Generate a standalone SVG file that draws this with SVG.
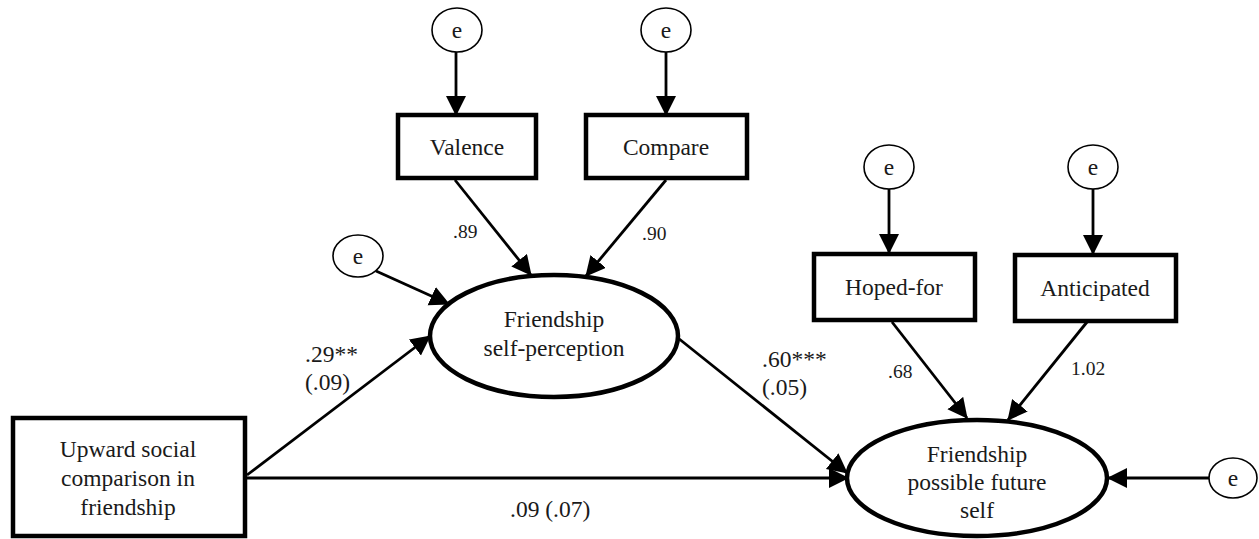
<svg xmlns="http://www.w3.org/2000/svg" width="1259" height="539" viewBox="0 0 1259 539" font-family="'Liberation Serif', 'DejaVu Serif', serif">
<defs>
<marker id="ah" markerUnits="userSpaceOnUse" markerWidth="22" markerHeight="22" refX="19" refY="10" orient="auto">
<path d="M0,0 L20,10 L0,20 z" fill="#000"/>
</marker>
<style>
text{font-family:'Liberation Serif','DejaVu Serif',serif;fill:#1a1a1a;text-anchor:middle}
.lbl{font-size:23.5px}
.coef{font-size:23.5px;text-anchor:start}
.load{font-size:19.5px;text-anchor:start}
.box{fill:#fff;stroke:#000;stroke-width:4.5}
.lat{fill:#fff;stroke:#000;stroke-width:4.5}
.err{fill:#fff;stroke:#000;stroke-width:1.6}
.con line{stroke:#000;stroke-width:2.8;marker-end:url(#ah)}
</style>
</defs>
<rect width="1259" height="539" fill="#fff"/>
<g class="con" id="connectors">
<line x1="456" y1="52" x2="456" y2="115"/>
<line x1="666" y1="52" x2="666" y2="115"/>
<line x1="889" y1="189" x2="889" y2="253"/>
<line x1="1093" y1="189" x2="1093" y2="254"/>
<line x1="455" y1="180" x2="531" y2="275"/>
<line x1="666" y1="180" x2="586" y2="276"/>
<line x1="376" y1="271" x2="449" y2="304"/>
<line x1="247" y1="475" x2="430" y2="336"/>
<line x1="678" y1="338" x2="847" y2="473"/>
<line x1="247" y1="478" x2="848" y2="478"/>
<line x1="892" y1="322" x2="967" y2="418"/>
<line x1="1087" y1="322" x2="1008" y2="420"/>
<line x1="1209" y1="478" x2="1108" y2="478"/>
</g>
<g id="e_valence"><ellipse class="err" cx="457" cy="30" rx="25" ry="22"/><text class="lbl" x="457" y="38">e</text></g>
<g id="e_compare"><ellipse class="err" cx="666" cy="30" rx="25" ry="22"/><text class="lbl" x="666" y="38">e</text></g>
<g id="e_hoped"><ellipse class="err" cx="889" cy="167" rx="25" ry="22"/><text class="lbl" x="889" y="175">e</text></g>
<g id="e_anticipated"><ellipse class="err" cx="1093" cy="167" rx="25" ry="22"/><text class="lbl" x="1093" y="175">e</text></g>
<g id="e_selfperception"><ellipse class="err" cx="358" cy="256" rx="25" ry="21"/><text class="lbl" x="358" y="264">e</text></g>
<g id="e_future"><ellipse class="err" cx="1233" cy="478" rx="24" ry="20"/><text class="lbl" x="1233" y="486">e</text></g>
<g id="valence"><rect class="box" x="398" y="115" width="138" height="63"/><text class="lbl" x="467" y="155">Valence</text></g>
<g id="compare"><rect class="box" x="586" y="115" width="161" height="63"/><text class="lbl" x="666" y="155">Compare</text></g>
<g id="hoped"><rect class="box" x="814" y="254" width="161" height="66"/><text class="lbl" x="894" y="295">Hoped-for</text></g>
<g id="anticipated"><rect class="box" x="1015" y="255" width="161" height="66"/><text class="lbl" x="1095" y="296">Anticipated</text></g>
<g id="upward"><rect class="box" x="13" y="418" width="232" height="118"/><text class="lbl" x="128" y="457">Upward social</text><text class="lbl" x="128" y="486">comparison in</text><text class="lbl" x="128" y="515">friendship</text></g>
<g id="selfperception"><ellipse class="lat" cx="554" cy="336" rx="124" ry="61"/><text class="lbl" x="554" y="327">Friendship</text><text class="lbl" x="554" y="356">self-perception</text></g>
<g id="future"><ellipse class="lat" cx="977" cy="478" rx="130" ry="58"/><text class="lbl" x="977" y="462">Friendship</text><text class="lbl" x="977" y="490">possible future</text><text class="lbl" x="977" y="518">self</text></g>
<g id="labels">
<text class="load" x="453" y="238">.89</text>
<text class="load" x="642" y="240">.90</text>
<text class="load" x="888" y="378">.68</text>
<text class="load" x="1071" y="375">1.02</text>
<text class="coef" x="305" y="362">.29**</text>
<text class="coef" x="305" y="390">(.09)</text>
<text class="coef" x="762" y="367">.60***</text>
<text class="coef" x="762" y="395">(.05)</text>
<text class="coef" x="510" y="517">.09 (.07)</text>
</g>
</svg>
